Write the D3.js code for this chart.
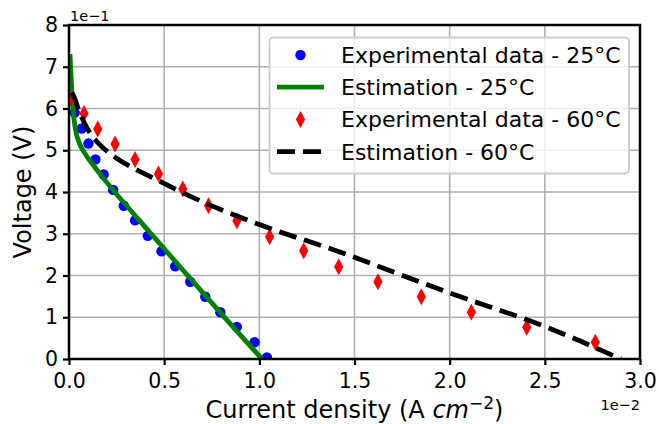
<!DOCTYPE html>
<html>
<head>
<meta charset="utf-8">
<script src="https://cdn.jsdelivr.net/npm/d3@7"></script>
<style>
  body { margin: 0; background: #fff; }
  svg { font-family: "DejaVu Sans", sans-serif; display: block; }
</style>
</head>
<body>
<div id="chart"></div>
<script>
// current density in 1e-2 A/cm^2, voltage in 1e-1 V
const exp25 = [
    [0.03, 5.9], [0.067, 5.52], [0.102, 5.16], [0.139, 4.78], [0.182, 4.42],
    [0.232, 4.05], [0.288, 3.67], [0.347, 3.32], [0.414, 2.95], [0.486, 2.58],
    [0.558, 2.22], [0.637, 1.85], [0.716, 1.49], [0.795, 1.12], [0.882, 0.77],
    [0.975, 0.40], [1.04, 0.04]
];
const est25 = [
    [0.005, 7.3], [0.01, 6.85], [0.015, 6.4], [0.02, 6.05], [0.032, 5.55],
    [0.05, 5.22], [0.08, 4.95], [0.128, 4.64], [0.172, 4.38], [0.24, 4.0],
    [0.32, 3.58], [0.412, 3.1], [0.55, 2.38], [0.689, 1.66], [0.85, 0.83],
    [1.014, 0.0]
];
const exp60 = [
    [0.011, 6.24], [0.079, 5.88], [0.151, 5.51], [0.242, 5.15], [0.347, 4.78],
    [0.47, 4.43], [0.598, 4.07], [0.733, 3.67], [0.882, 3.31], [1.054, 2.93],
    [1.233, 2.59], [1.417, 2.21], [1.623, 1.85], [1.851, 1.49], [2.114, 1.12],
    [2.405, 0.76], [2.765, 0.40]
];
const est60 = [
    [0.015, 6.38], [0.03, 6.24], [0.05, 5.97], [0.08, 5.66], [0.11, 5.42],
    [0.163, 5.13], [0.25, 4.81], [0.356, 4.53], [0.462, 4.29], [0.567, 4.05],
    [0.76, 3.65], [1.0, 3.22], [1.4, 2.6], [2.0, 1.58], [2.5, 0.78],
    [2.64, 0.52], [2.8, 0.2], [2.9, 0.0]
];
const xTicks = [0, 0.5, 1.0, 1.5, 2.0, 2.5, 3.0];
const yTicks = [0, 1, 2, 3, 4, 5, 6, 7, 8];
const legendLabels = [
    "Experimental data - 25°C",
    "Estimation - 25°C",
    "Experimental data - 60°C",
    "Estimation - 60°C"
];

const width = 659, height = 424;
const plot = { left: 69, right: 640, top: 25, bottom: 359 };

const svg = d3.select("#chart").append("svg")
    .attr("width", width)
    .attr("height", height);

const x = d3.scaleLinear().domain([0, 3]).range([plot.left, plot.right]);
const y = d3.scaleLinear().domain([0, 8]).range([plot.bottom, plot.top]);

svg.append("defs").append("clipPath").attr("id", "plotClip")
    .append("rect")
    .attr("x", plot.left).attr("y", plot.top)
    .attr("width", plot.right - plot.left)
    .attr("height", plot.bottom - plot.top);

// --- Grid ---
const grid = svg.append("g").attr("stroke", "#b0b0b0").attr("stroke-width", 1.6);
grid.selectAll("line.vx").data(xTicks).join("line")
    .attr("x1", d => x(d)).attr("x2", d => x(d))
    .attr("y1", plot.top).attr("y2", plot.bottom);
grid.selectAll("line.hy").data(yTicks).join("line")
    .attr("y1", d => y(d)).attr("y2", d => y(d))
    .attr("x1", plot.left).attr("x2", plot.right);

// --- Series ---
const body = svg.append("g").attr("clip-path", "url(#plotClip)");
const line = d3.line().x(d => x(d[0])).y(d => y(d[1])).curve(d3.curveMonotoneX);
const diamond = "M0,-8.5L4.6,0L0,8.5L-4.6,0Z";

body.selectAll("circle.exp25").data(exp25).join("circle")
    .attr("cx", d => x(d[0])).attr("cy", d => y(d[1]))
    .attr("r", 5.2).attr("fill", "#0000ff");

body.append("path").datum(est25)
    .attr("d", line)
    .attr("fill", "none").attr("stroke", "#008000").attr("stroke-width", 4.8);

body.selectAll("path.exp60").data(exp60).join("path")
    .attr("d", diamond)
    .attr("transform", d => `translate(${x(d[0])},${y(d[1])})`)
    .attr("fill", "#ff0000");

body.append("path").datum(est60)
    .attr("d", line)
    .attr("fill", "none").attr("stroke", "#000").attr("stroke-width", 4.8)
    .attr("stroke-dasharray", "18,8");

// --- Axes ---
const xAxis = svg.append("g")
    .attr("transform", `translate(0,${plot.bottom})`)
    .call(d3.axisBottom(x).tickValues(xTicks).tickSize(6).tickPadding(8).tickFormat(d3.format(".1f")));
const yAxis = svg.append("g")
    .attr("transform", `translate(${plot.left},0)`)
    .call(d3.axisLeft(y).tickValues(yTicks).tickSize(6).tickPadding(5).tickFormat(d3.format("d")));

[xAxis, yAxis].forEach(a => {
    a.select(".domain").remove();
    a.selectAll(".tick line").attr("stroke", "#000").attr("stroke-width", 2.2);
    a.selectAll(".tick text")
        .attr("fill", "#000")
        .style("font-size", "20.5px")
        .style("font-family", "DejaVu Sans");
});

svg.append("rect")
    .attr("x", plot.left).attr("y", plot.top)
    .attr("width", plot.right - plot.left)
    .attr("height", plot.bottom - plot.top)
    .attr("fill", "none").attr("stroke", "#000").attr("stroke-width", 2.5);

// offset texts
svg.append("text")
    .attr("x", plot.left + 1).attr("y", 21)
    .style("font-size", "14.5px")
    .text("1e\u22121");
svg.append("text")
    .attr("x", plot.right).attr("y", 410)
    .attr("text-anchor", "end")
    .style("font-size", "14.5px")
    .text("1e\u22122");

// axis labels
const xLabel = svg.append("text")
    .attr("x", (plot.left + plot.right) / 2).attr("y", 418)
    .attr("text-anchor", "middle")
    .style("font-size", "24px");
xLabel.append("tspan").text("Current density (A ");
xLabel.append("tspan").style("font-style", "italic").text("cm");
xLabel.append("tspan").attr("dy", -9).style("font-size", "17px").text("\u22122");
xLabel.append("tspan").attr("dy", 9).text(")");

svg.append("text")
    .attr("transform", `translate(31,${(plot.top + plot.bottom) / 2}) rotate(-90)`)
    .attr("text-anchor", "middle")
    .style("font-size", "24px")
    .text("Voltage (V)");

// --- Legend ---
const legend = svg.append("g");
legend.append("rect")
    .attr("x", 269.5).attr("y", 37.5)
    .attr("width", 359.5).attr("height", 136)
    .attr("rx", 4)
    .attr("fill", "#fff").attr("fill-opacity", 0.8)
    .attr("stroke", "#cccccc").attr("stroke-width", 1.8);

const rowY = i => 55 + i * 32.2;
const rows = legend.selectAll("g.row").data(legendLabels).join("g")
    .attr("transform", (d, i) => `translate(0,${rowY(i)})`);

rows.append("text")
    .attr("x", 341).attr("y", 0).attr("dy", "0.36em")
    .style("font-size", "22px")
    .text(d => d);

const hx0 = 277, hx1 = 324, hxm = 300.5;
rows.filter((d, i) => i === 0).append("circle")
    .attr("cx", hxm).attr("r", 5.2).attr("fill", "#0000ff");
rows.filter((d, i) => i === 1).append("line")
    .attr("x1", hx0).attr("x2", hx1)
    .attr("stroke", "#008000").attr("stroke-width", 4.8);
rows.filter((d, i) => i === 2).append("path")
    .attr("d", diamond).attr("transform", `translate(${hxm},0)`)
    .attr("fill", "#ff0000");
rows.filter((d, i) => i === 3).append("line")
    .attr("x1", hx0).attr("x2", hx1)
    .attr("stroke", "#000").attr("stroke-width", 4.8)
    .attr("stroke-dasharray", "18,8");
</script>
</body>
</html>
